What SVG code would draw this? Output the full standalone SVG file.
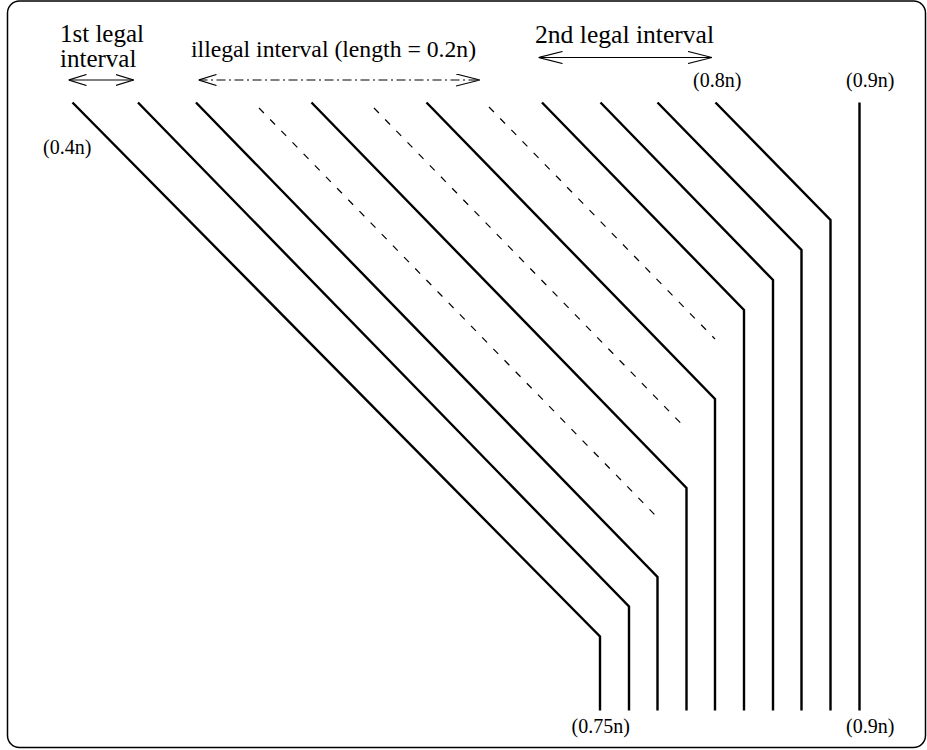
<svg xmlns="http://www.w3.org/2000/svg" width="927" height="750" viewBox="0 0 927 750">
  <style>
    .t { font-family: "Liberation Serif", "Times New Roman", serif; fill: #000; }
    .small { font-size: 20px; }
    .wire { fill: none; stroke: #000; stroke-width: 2.4; stroke-linejoin: miter; }
    .dash { fill: none; stroke: #000; stroke-width: 1.2; stroke-dasharray: 7 9; }
    .arr { fill: none; stroke: #000; stroke-width: 1.2; }
    .dashdot { stroke-dasharray: 9 3.5 2 3.5; }
  </style>
  <defs>
    <marker id="open" viewBox="0 0 18 12" refX="18" refY="6" markerWidth="18" markerHeight="12" markerUnits="userSpaceOnUse" orient="auto-start-reverse">
      <path d="M0,0.5 L18,6 L0,11.5" fill="none" stroke="#000" stroke-width="1.2" stroke-dasharray="none"/>
    </marker>
    <marker id="openL" viewBox="0 0 24 13" refX="24" refY="6.5" markerWidth="24" markerHeight="13" markerUnits="userSpaceOnUse" orient="auto-start-reverse">
      <path d="M0,0.5 L24,6.5 L0,12.5" fill="none" stroke="#000" stroke-width="1.2" stroke-dasharray="none"/>
    </marker>
  </defs>

  <rect id="frame" x="7.5" y="1" width="918" height="746.5" rx="12" ry="12" fill="none" stroke="#000" stroke-width="1.5"/>

  <g id="labels">
    <text class="t" font-size="25" x="60" y="42">1st legal</text>
    <text class="t" font-size="25" x="60" y="66.5">interval</text>
    <text class="t" font-size="23.7" x="191" y="57">illegal interval (length = 0.2n)</text>
    <text class="t" font-size="25.6" x="535" y="42.5">2nd legal interval</text>
    <text class="t small" x="693" y="87">(0.8n)</text>
    <text class="t small" x="846" y="87">(0.9n)</text>
    <text class="t small" x="43" y="154">(0.4n)</text>
    <text class="t small" x="571.5" y="733">(0.75n)</text>
    <text class="t small" x="846" y="733">(0.9n)</text>
  </g>

  <g id="interval-arrows">
    <line class="arr" x1="68.5" y1="80" x2="133.5" y2="80" marker-start="url(#open)" marker-end="url(#open)"/>
    <line class="arr dashdot" x1="198.5" y1="80" x2="480" y2="80" marker-start="url(#open)" marker-end="url(#openL)"/>
    <line class="arr" x1="538.5" y1="57.5" x2="712" y2="57.5" marker-start="url(#openL)" marker-end="url(#openL)"/>
  </g>

  <g id="connectors">
    <polyline class="wire" points="72.5,102.5 600,636.5 600,710.5"/>
    <polyline class="wire" points="138,102.5 629,606.5 629,710.5"/>
    <polyline class="wire" points="196,102.5 657.5,577 657.5,710.5"/>
    <polyline class="wire" points="311.5,102.5 686.5,488 686.5,710.5"/>
    <polyline class="wire" points="426.5,102.5 715,399 715,710.5"/>
    <polyline class="wire" points="542,102.5 744,310 744,710.5"/>
    <polyline class="wire" points="600.5,102.5 773,280 773,710.5"/>
    <polyline class="wire" points="657.5,102.5 801.5,250 801.5,710.5"/>
    <polyline class="wire" points="715.5,102.5 830.5,220 830.5,710.5"/>
    <polyline class="wire" points="859.5,102.5 859.5,710.5"/>
    <line class="dash" x1="259" y1="108" x2="656.5" y2="516.5"/>
    <line class="dash" x1="374" y1="108" x2="686" y2="428.5"/>
    <line class="dash" x1="489" y1="107" x2="715" y2="339"/>
  </g>
</svg>
